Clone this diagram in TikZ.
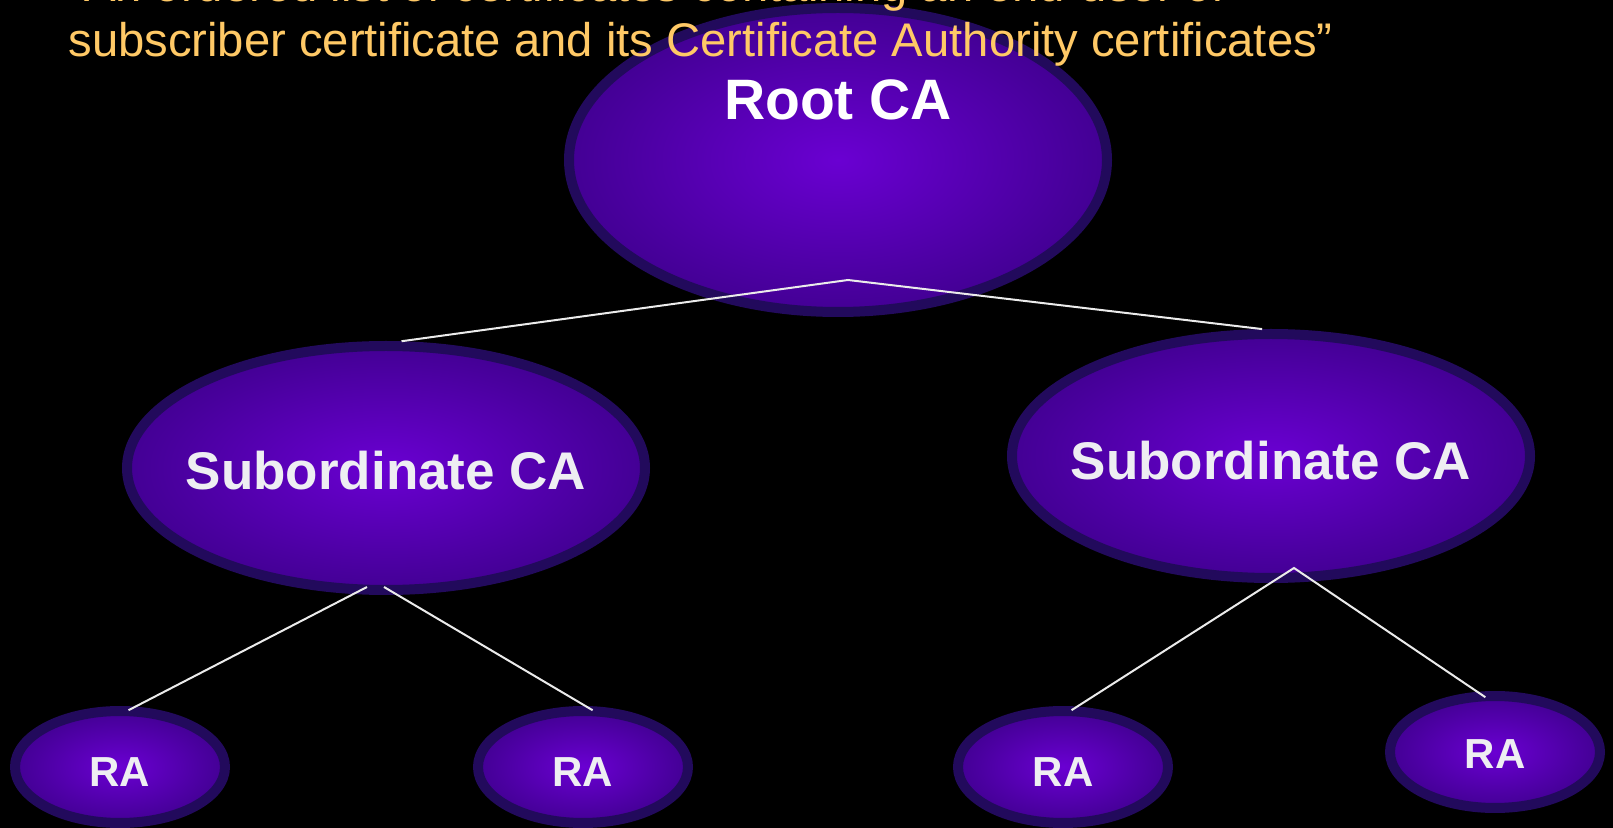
\documentclass[tikz,border=0pt]{standalone}
\usepackage{fontspec}
\setmainfont{Liberation Sans}
\usetikzlibrary{shapes.geometric}
\definecolor{pkiink}{HTML}{FFC966}
\definecolor{pkiedge}{HTML}{220A5C}
\definecolor{pkicore}{HTML}{6A00D2}
\definecolor{pkirim}{HTML}{430094}
\definecolor{pkitext}{HTML}{EEEEF2}
\newcommand{\flatbox}[1]{\makebox[0pt]{#1}}
\newcommand{\dropby}[2]{\raisebox{-#1}[\height][0pt]{#2}}
\tikzset{
  cabox/.style   = {ellipse, draw=pkiedge, line width=5pt, inner color=pkicore,
                    outer color=pkirim, inner sep=0pt, text=pkitext},
  rootbox/.style = {cabox, minimum width=269pt, minimum height=152pt},
  subbox/.style  = {cabox, minimum width=259pt, minimum height=122pt,
                    font=\fontsize{26.5}{30}\selectfont\bfseries},
  rabox/.style   = {cabox, minimum width=105pt, minimum height=56pt,
                    font=\fontsize{21}{25}\selectfont\bfseries},
  link/.style    = {draw=white!92!black, line width=1pt},
}

\begin{document}
\begin{tikzpicture}[x=0.5pt,y=-0.5pt]
    \fill[black] (0,0) rectangle (1613,828);
    \useasboundingbox (0,0) rectangle (1613,828);
    % hierarchy
    \node[rootbox] (root) at (838,160) {};
    \node[font=\fontsize{28.5}{32}\selectfont\bfseries,text=white] (rootname) at ([yshift=30pt]root.center) {Root CA};
    \node[subbox] (subL) at (386,468) {\flatbox{\dropby{1pt}{Subordinate CA}}};
    \node[subbox] (subR) at (1271,456) {\flatbox{\dropby{2pt}{Subordinate CA}}};
    \node[rabox] (ra1) at (120,767) {\dropby{2.5pt}{RA}};
    \node[rabox] (ra2) at (583,767) {\dropby{2.5pt}{RA}};
    \node[rabox] (ra3) at (1063,767) {\dropby{2.5pt}{RA}};
    \node[rabox] (ra4) at (1495,752) {\dropby{1pt}{RA}};
    % links
    \coordinate (rootfork) at ([xshift=5pt,yshift=18.5pt]root.south);
    \coordinate (subLforkA) at ([xshift=-9.5pt,yshift=4pt]subL.south);
    \coordinate (subLforkB) at ([xshift=-1pt,yshift=4pt]subL.south);
    \coordinate (subRfork) at ([xshift=11.5pt,yshift=7.5pt]subR.south);
    \draw[link] (subL.83) -- (rootfork) -- (subR.94);
    \draw[link] (subLforkA) -- ([yshift=-2pt]ra1.82);
    \draw[link] (subLforkB) -- ([yshift=-2pt]ra2.81);
    \draw[link] ([yshift=-2pt]ra3.82) -- (subRfork) -- ([yshift=-3pt]ra4.99);
    % definition
    \node[anchor=south west,inner sep=0pt,align=left,text=pkiink,
          font=\fontsize{23.6}{27.5}\selectfont] (chaindef) at (68,67)
      {“An ordered list of certificates containing an end-user or\\
       subscriber certificate and its Certificate Authority certificates”};
  \end{tikzpicture}
\end{document}
